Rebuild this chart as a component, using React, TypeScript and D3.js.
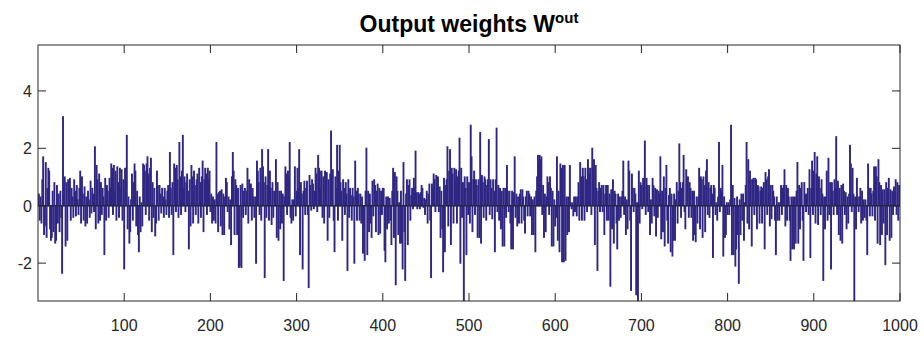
import React from "react";
import * as d3 from "d3";

// Output weights in blocks of 100 neurons
const W_001_100 = [
  0.4,-0.5,0.3,-0.6,0.9,1.7,-1.0,-0.7,1.5,-1.1,
  0.6,1.3,1.2,-0.8,-1.2,-1.1,0.5,-0.9,0.8,-1.3,
  -1.2,0.7,-0.6,0.4,-0.9,0.5,-0.4,-2.35,3.1,0.6,
  1.0,-1.4,0.8,-1.2,0.9,0.7,0.95,-0.5,0.6,0.3,
  -0.4,0.9,0.5,-0.35,0.7,0.2,-0.3,0.6,1.2,-0.6,
  1.0,0.4,-0.5,0.65,-0.7,0.3,-0.6,0.5,0.2,-0.4,
  0.85,-0.25,0.6,0.4,-0.2,2.05,-0.8,1.4,0.9,-0.6,
  1.1,-0.5,0.8,-0.3,0.6,0.3,-1.7,0.95,-0.5,0.7,
  0.5,-0.4,0.95,0.6,1.45,1.3,-0.3,1.4,0.5,1.2,
  -0.5,1.35,0.8,-0.4,1.3,0.6,1.25,-0.5,0.9,-2.2,
];
const W_101_200 = [
  1.3,0.5,2.45,-0.8,0.3,-1.3,-0.9,0.2,1.1,-0.5,
  0.8,1.45,1.2,-0.7,0.5,-1.0,-1.6,0.3,-0.9,0.1,
  -0.7,1.45,1.4,1.2,-0.3,1.45,1.7,1.1,-0.5,1.3,
  1.65,-0.9,0.8,-0.4,0.6,-1.05,-0.6,1.2,0.7,-0.5,
  0.7,0.4,-0.25,0.6,0.3,-0.4,0.6,0.2,-0.3,0.5,
  0.7,-0.4,1.85,0.6,-0.3,0.8,-1.7,1.45,1.3,-0.2,
  1.4,0.9,-0.4,2.2,1.0,-0.3,1.2,2.45,0.6,1.0,
  -0.2,0.8,1.1,0.5,-1.5,0.9,-0.7,1.4,1.0,-0.6,
  1.2,0.7,-0.3,0.9,1.1,-0.6,1.3,0.8,-0.4,1.0,
  1.55,-0.9,0.9,1.3,1.1,-0.3,1.3,0.9,1.2,-0.2,
];
const W_201_300 = [
  0.4,-0.6,0.3,-0.5,0.2,-0.6,2.2,0.4,-0.9,0.45,
  0.5,-0.7,0.55,-1.0,0.4,-1.0,0.3,0.95,0.8,-0.2,
  0.3,-0.8,0.2,-1.35,1.0,1.85,1.2,-1.0,0.9,0.7,
  -1.0,0.6,-2.15,-2.1,0.7,-2.15,0.75,-0.4,0.5,0.6,
  -0.3,0.5,1.3,-0.6,0.9,0.4,0.75,-0.5,0.6,0.3,
  -0.4,0.3,-2.0,1.55,1.2,0.8,-0.3,1.3,-0.5,1.95,
  1.35,0.8,-2.5,1.0,-0.4,0.7,1.95,-0.5,1.2,0.6,
  -0.65,0.8,-0.4,0.5,0.3,1.6,-1.1,0.8,-1.2,0.5,
  -0.8,0.5,-0.6,0.4,-2.6,0.3,1.35,1.1,-0.3,1.2,
  0.9,2.2,-0.4,-0.6,0.2,-0.5,0.2,1.35,-0.35,0.5,
];
const W_301_400 = [
  1.3,0.6,1.95,-1.7,0.8,0.4,-2.2,0.5,0.85,-0.3,
  0.6,0.85,-0.3,-2.85,1.05,0.7,-0.15,0.9,0.75,-0.1,
  0.5,1.3,1.1,-0.2,1.75,1.3,1.2,0.6,1.2,-0.4,
  1.0,-0.6,1.2,0.8,1.15,-1.2,0.9,-0.4,1.1,2.6,
  0.7,1.25,-0.5,-1.6,1.0,0.6,2.1,-0.5,1.2,2.1,
  0.8,0.5,-1.2,0.9,0.6,-0.3,0.8,0.4,-2.25,0.9,
  -0.4,0.6,0.35,-0.5,0.6,0.3,-2.0,1.55,0.5,-0.5,
  0.6,0.4,-0.5,0.4,-0.6,0.3,-1.65,-0.7,-1.9,0.5,
  2.0,-1.7,0.5,-0.9,0.4,-0.6,-1.1,0.85,-0.35,0.9,
  0.7,-0.9,0.5,0.75,-1.0,0.6,-0.95,0.5,-0.3,0.6,
];
const W_401_500 = [
  0.6,-1.55,-1.95,0.3,-0.8,0.3,-0.6,0.25,-0.5,-1.35,
  0.5,1.3,-1.1,1.15,-2.75,1.0,0.5,-1.0,0.1,-1.3,
  0.5,-1.3,-2.2,1.5,-0.9,-2.6,0.4,0.9,-1.35,0.7,
  0.9,-0.5,0.35,0.6,-0.1,0.95,0.6,1.9,0.45,-0.1,
  0.45,0.4,-0.1,0.45,0.7,0.6,-0.05,0.25,-0.3,0.2,
  0.5,-0.6,0.4,0.75,-0.5,-2.5,0.75,0.6,1.1,0.9,
  -0.2,1.05,0.8,1.0,-0.2,0.65,-1.1,0.5,-0.8,-2.3,
  0.95,-1.6,0.7,0.9,2.05,-0.7,1.2,1.95,-1.35,1.3,
  1.1,-0.6,1.3,0.9,1.25,-0.6,1.0,1.2,2.35,-2.0,
  1.3,-0.4,0.8,-3.5,1.0,0.6,-1.7,1.0,-0.3,0.8,
];
const W_501_600 = [
  -0.6,2.8,1.7,-0.9,0.9,1.2,-0.3,0.9,0.7,-1.1,
  0.9,-1.1,2.55,-1.3,1.05,0.8,-0.4,1.0,0.9,-0.5,
  0.7,0.9,2.3,-0.3,0.9,0.6,-0.45,0.9,0.5,-1.6,
  0.9,2.7,-0.2,0.7,-0.5,0.6,-0.8,0.5,-1.4,0.6,
  -1.4,0.6,-0.4,1.4,0.5,-0.2,0.5,-0.6,-1.5,0.5,
  -1.5,0.45,1.7,-0.4,0.4,-0.7,0.3,-0.6,0.4,0.55,
  -0.6,0.55,0.3,-0.5,-0.95,0.3,0.5,-0.35,0.5,0.4,
  -0.35,0.3,-1.0,0.2,-1.0,0.3,-1.6,0.5,1.0,1.75,
  1.5,1.75,1.6,1.7,-0.3,0.7,-1.1,0.4,-0.9,0.3,
  1.0,0.8,-0.3,1.0,0.6,-1.4,0.5,-1.4,0.2,-0.7,
];
const W_601_700 = [
  -0.4,1.7,-1.2,0.5,-1.6,1.45,1.3,-1.95,1.4,-1.95,
  1.4,-1.9,0.3,-1.0,0.3,-0.9,1.4,0.1,-0.1,0.1,
  -0.35,0.3,-0.2,0.3,-0.35,0.3,0.8,-0.5,1.5,1.0,
  -0.5,1.3,1.0,-0.5,1.3,0.9,-0.2,1.6,1.3,1.1,
  1.3,-0.3,2.0,1.2,1.6,-1.35,1.4,0.6,-2.25,0.5,
  0.8,-0.2,0.6,0.7,-0.2,0.7,-1.0,0.4,0.7,-0.5,
  0.7,-0.5,0.4,-2.8,0.55,-0.8,0.9,-1.3,0.5,0.4,
  -0.6,-1.5,0.4,-0.5,0.3,-0.4,0.3,0.5,1.55,-0.3,
  0.3,-1.0,0.2,-0.8,1.55,1.2,-0.5,-2.95,1.1,0.6,
  -0.2,0.6,0.4,-3.1,0.1,-3.5,1.2,-0.6,0.8,0.7,
];
const W_701_800 = [
  -0.1,0.95,0.6,2.25,-0.3,0.95,0.7,-0.2,0.7,-1.0,
  0.2,-0.6,0.95,0.7,-0.35,0.6,-1.05,0.55,-0.4,0.5,
  0.4,1.7,-1.15,0.5,-0.9,1.0,-1.4,0.6,1.4,-0.5,
  -1.3,0.35,0.6,-1.6,0.4,-1.75,-1.2,0.4,-1.2,0.2,
  0.8,-0.6,0.5,2.15,0.8,-0.4,0.6,0.8,1.75,-0.2,
  -0.8,1.25,0.9,1.0,-0.4,0.8,0.6,-0.4,0.5,-1.2,
  0.5,-1.0,-1.25,0.3,-0.6,0.3,1.3,-0.8,1.0,0.9,
  -1.1,1.0,0.7,-0.9,1.2,1.6,-0.3,0.8,-0.4,0.6,
  0.7,0.4,-1.8,0.7,0.6,-0.3,0.1,-0.5,0.3,2.2,
  -0.2,0.6,0.5,1.4,-1.75,0.3,-1.1,-1.0,0.1,-0.3,
];
const W_801_900 = [
  0.1,-0.3,0.2,2.8,-1.7,0.7,-1.7,0.25,-2.1,-1.5,
  0.3,-1.0,-2.7,0.2,-1.0,0.4,-0.5,0.4,-1.2,0.1,
  0.7,2.2,-0.6,1.6,-0.8,1.2,0.9,-1.4,0.9,0.95,
  -0.3,0.95,0.9,-0.8,0.7,0.65,-0.6,0.5,0.65,-0.6,
  0.6,0.8,-1.5,1.15,0.9,-0.3,1.0,1.25,-0.7,0.7,
  -0.45,0.7,0.5,0.3,-0.5,-1.7,0.3,-0.5,0.1,-0.5,
  0.1,0.7,-0.3,0.6,0.7,1.25,-0.7,0.7,-0.5,0.6,
  0.3,-0.5,-1.9,0.3,-1.5,0.3,-1.5,0.3,-1.3,0.5,
  1.5,-1.3,0.7,-0.8,0.6,0.8,-0.5,-1.9,0.8,0.4,
  -0.2,0.4,0.6,-0.3,1.25,-1.8,0.6,1.55,-0.3,1.2,
];
const W_901_1000 = [
  1.85,-0.6,1.1,1.7,-0.65,1.0,0.6,-0.3,0.9,0.4,
  -2.6,0.3,-0.8,0.3,1.2,-0.5,1.65,-0.3,0.8,-2.2,
  0.8,0.5,-0.3,0.9,0.6,2.4,-0.3,0.85,-1.0,0.6,
  -1.2,0.7,-1.3,0.75,0.5,-0.3,0.45,-0.8,0.3,-0.6,
  0.4,2.1,1.45,-0.2,1.3,0.4,-3.5,0.3,-0.8,0.95,
  0.3,-0.2,0.3,0.6,-0.6,0.5,-0.5,0.2,-0.4,0.2,
  -0.5,-1.7,1.45,0.6,-0.35,0.6,0.4,-0.35,0.5,1.35,
  -0.5,1.35,1.0,-1.3,1.6,0.8,-1.35,0.7,-1.0,0.55,
  -0.6,0.55,-2.05,0.8,-1.0,0.6,0.95,-1.2,0.55,-1.1,
  0.5,-0.3,0.65,0.4,0.9,-0.3,0.8,-0.5,0.7,0.6,
];

const weights = [
  ...W_001_100, ...W_101_200, ...W_201_300, ...W_301_400, ...W_401_500,
  ...W_501_600, ...W_601_700, ...W_701_800, ...W_801_900, ...W_901_1000,
];

const xTicks = [100, 200, 300, 400, 500, 600, 700, 800, 900, 1000];
const yTicks = [-2, 0, 2, 4];
const xDomain = [0, 1000];
const yDomain = [-3.32, 5.6];
const titleMain = "Output weights W";
const titleSup = "out";

const W = 924;
const H = 343;
const M = { left: 38, right: 900, top: 45, bottom: 301 };
const BAR = "#2f2783";
const AXIS = "#262626";
const FONT = "'Liberation Sans', Arial, Helvetica, sans-serif";

export default function App() {
  const x = d3.scaleLinear().domain(xDomain).range([M.left, M.right]);
  const y = d3.scaleLinear().domain(yDomain).range([M.bottom, M.top]);
  const step = x(1) - x(0);
  const bw = step * 0.8;
  const tick = 8;

  return (
    <svg
      width={W}
      height={H}
      style={{ position: "absolute", left: 0, top: 0, background: "#fff" }}
      fontFamily={FONT}
    >
      <defs>
        <clipPath id="plotclip">
          <rect x={M.left} y={M.top} width={M.right - M.left} height={M.bottom - M.top} />
        </clipPath>
      </defs>
      <rect x={M.left} y={M.top} width={M.right - M.left} height={M.bottom - M.top} fill="#fff" />
      <g clipPath="url(#plotclip)">
        {weights.map((v, k) => {
          const i = k + 1;
          const y0 = y(Math.max(0, v));
          const y1 = y(Math.min(0, v));
          return (
            <rect
              key={k}
              x={x(i) - bw / 2}
              y={y0}
              width={bw}
              height={Math.max(0, y1 - y0)}
              fill={BAR}
              stroke={BAR}
              strokeWidth={1.2}
            />
          );
        })}
        <line x1={M.left} x2={M.right} y1={y(0)} y2={y(0)} stroke={AXIS} strokeWidth={1} />
      </g>
      {/* box */}
      <rect
        x={M.left}
        y={M.top}
        width={M.right - M.left}
        height={M.bottom - M.top}
        fill="none"
        stroke={AXIS}
        strokeWidth={1}
      />
      {/* x ticks */}
      {xTicks.map((t) => (
        <g key={"x" + t}>
          <line x1={x(t)} x2={x(t)} y1={M.bottom} y2={M.bottom - tick} stroke={AXIS} />
          <line x1={x(t)} x2={x(t)} y1={M.top} y2={M.top + tick} stroke={AXIS} />
          <text x={x(t)} y={M.bottom + 30} textAnchor="middle" fontSize={16} fill={AXIS}>
            {String(t)}
          </text>
        </g>
      ))}
      {/* y ticks */}
      {yTicks.map((t) => (
        <g key={"y" + t}>
          <line x1={M.left} x2={M.left + tick} y1={y(t)} y2={y(t)} stroke={AXIS} />
          <line x1={M.right} x2={M.right - tick} y1={y(t)} y2={y(t)} stroke={AXIS} />
          <text x={M.left - 6} y={y(t) + 6} textAnchor="end" fontSize={16} fill={AXIS}>
            {String(t)}
          </text>
        </g>
      ))}
      <text x={(M.left + M.right) / 2} y={32} textAnchor="middle" fontSize={23} fontWeight="bold" fill="#000">
        {titleMain}
        <tspan fontSize={15} dy={-9}>{titleSup}</tspan>
      </text>
    </svg>
  );
}
